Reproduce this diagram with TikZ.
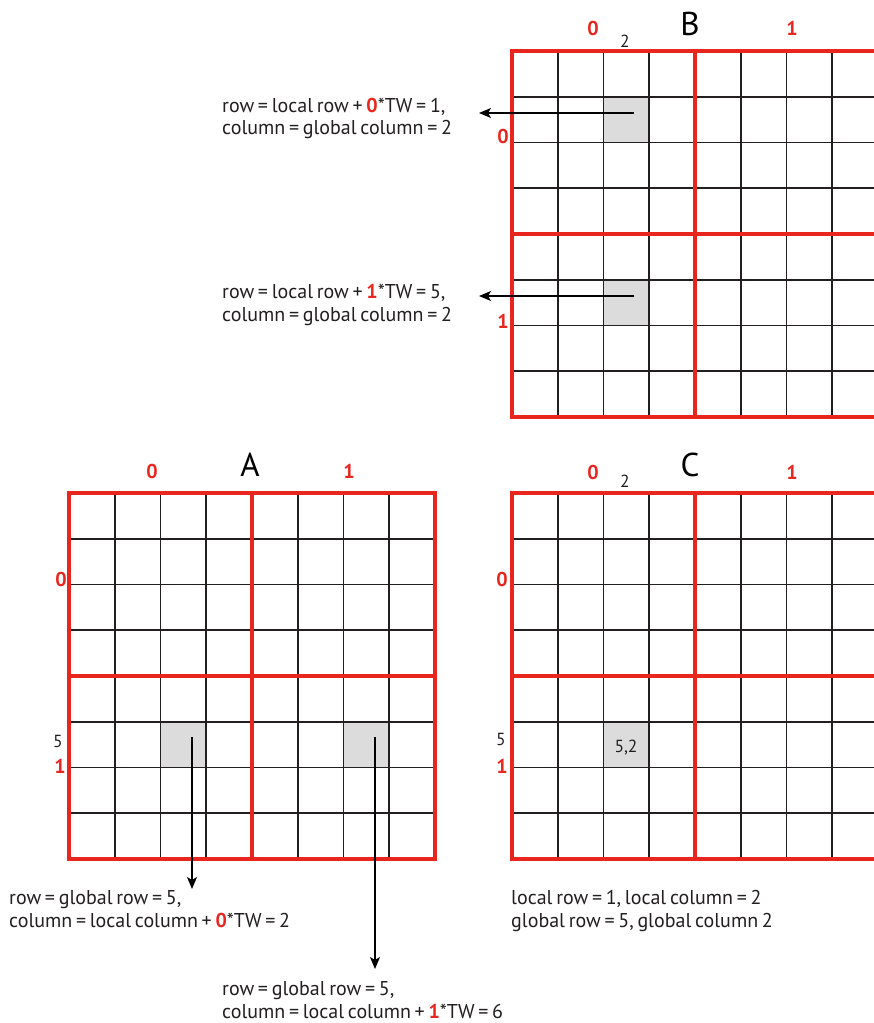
\documentclass[tikz,border=0pt]{standalone}
\usepackage{fontspec}
\setmainfont{PT Sans}[WordSpace=0.7]
\usetikzlibrary{arrows.meta}
\definecolor{gridred}{RGB}{232,38,30}
\definecolor{cellgray}{RGB}{220,220,220}
\definecolor{inkblack}{RGB}{35,31,32}
\newcommand\rd[1]{\textcolor{gridred}{\textbf{#1}}}
\newcommand\tilegrid{%
  \foreach \i in {1,2,3,5,6,7} {
    \draw[thinline] (\i*45.75,0) -- (\i*45.75,366);
    \draw[thinline] (0,\i*45.75) -- (366,\i*45.75);
  }
  \draw[redline] (0,0) rectangle (366,366);
  \draw[redline] (183,0) -- (183,366);
  \draw[redline] (0,183) -- (366,183);
}
\begin{document}
\begin{tikzpicture}[x=1pt,y=-1pt,
  thinline/.style={draw=inkblack,line width=1.6pt},
  redline/.style={draw=gridred,line width=3.2pt,line cap=rect},
  shade/.style={fill=cellgray,draw=none},
  body/.style={inner sep=0pt,anchor=base west,text=inkblack,font=\fontsize{20}{23}\selectfont},
  title/.style={inner sep=0pt,anchor=base,text=black,font=\fontsize{33}{36}\selectfont},
  tilelab/.style={inner sep=0pt,anchor=base,text=gridred,font=\fontsize{20}{22}\selectfont\bfseries},
  idxlab/.style={inner sep=0pt,anchor=base,text=inkblack,font=\fontsize{17.5}{19}\selectfont},
  arr/.style={draw=black,line width=1.3pt,-{Stealth[length=12pt,width=10pt,inset=3pt]}}]
\useasboundingbox (0,0) rectangle (874,1023);
\fill[white] (0,0) rectangle (874,1023);
\begin{scope}
\clip (0,0) rectangle (874,1023);
% ---------- grid B ----------
\begin{scope}[shift={(512,51)}]
  \fill[shade] (91.5,45.75) rectangle (137.25,91.5);
  \fill[shade] (91.5,228.75) rectangle (137.25,274.5);
  \tilegrid
\end{scope}
% ---------- grid A ----------
\begin{scope}[shift={(69,493)}]
  \fill[shade] (91.5,228.75) rectangle (137.25,274.5);
  \fill[shade] (274.5,228.75) rectangle (320.25,274.5);
  \tilegrid
\end{scope}
% ---------- grid C ----------
\begin{scope}[shift={(512,493)}]
  \fill[shade] (91.5,228.75) rectangle (137.25,274.5);
  \tilegrid
\end{scope}
\end{scope}
% ---------- labels B ----------
\node[title] (Bt) at (690,35) {B};
\node[tilelab] (B0) at (593,35) {0};
\node[tilelab] (B1) at (792,35) {1};
\node[idxlab] (B2) at (625,47) {2};
\node[tilelab] (Br0) at (503,143) {0};
\node[tilelab] (Br1) at (503,328) {1};
% ---------- labels A ----------
\node[title] (At) at (250,476) {A};
\node[tilelab] (A0) at (152,478) {0};
\node[tilelab] (A1) at (349,478) {1};
\node[tilelab] (Ar0) at (61,586) {0};
\node[idxlab] (Ar5) at (58,747) {5};
\node[tilelab] (Ar1) at (60,773) {1};
% ---------- labels C ----------
\node[title] (Ct) at (690,476) {C};
\node[tilelab] (C0) at (593,479) {0};
\node[tilelab] (C1) at (792,479) {1};
\node[idxlab] (C2) at (625,487) {2};
\node[tilelab] (Cr0) at (502,586) {0};
\node[idxlab] (Cr5) at (501,745) {5};
\node[tilelab] (Cr1) at (502,773) {1};
\node[idxlab] (Ccell) at (626,752) {5,2};
% ---------- texts ----------
\node[body] (tb1a) at (222,112) {row = local row + \rd{0}*TW = 1,};
\node[body] (tb1b) at (222,134.5) {column = global column = 2};
\node[body] (tb2a) at (222,298.5) {row = local row + \rd{1}*TW = 5,};
\node[body] (tb2b) at (222,321) {column = global column = 2};
\node[body] (ta1a) at (9,904) {row = global row = 5,};
\node[body] (ta1b) at (9,927) {column = local column + \rd{0}*TW = 2};
\node[body] (ta2a) at (222,995.5) {row = global row = 5,};
\node[body] (ta2b) at (222,1018.5) {column = local column + \rd{1}*TW = 6};
\node[body] (tc1a) at (511,904) {local row = 1, local column = 2};
\node[body] (tc1b) at (511,927) {global row = 5, global column 2};
% ---------- arrows ----------
\coordinate (sB1) at (634,113);
\coordinate (eB1) at (479,113);
\coordinate (sB2) at (634,296);
\coordinate (eB2) at (479,296);
\coordinate (sA1) at (192,737);
\coordinate (eA1) at (192,889);
\coordinate (sA2) at (375,737);
\coordinate (eA2) at (375,969);
\draw[arr] (sB1) -- (eB1);
\draw[arr] (sB2) -- (eB2);
\draw[arr] (sA1) -- (eA1);
\draw[arr] (sA2) -- (eA2);
\end{tikzpicture}
\end{document}
